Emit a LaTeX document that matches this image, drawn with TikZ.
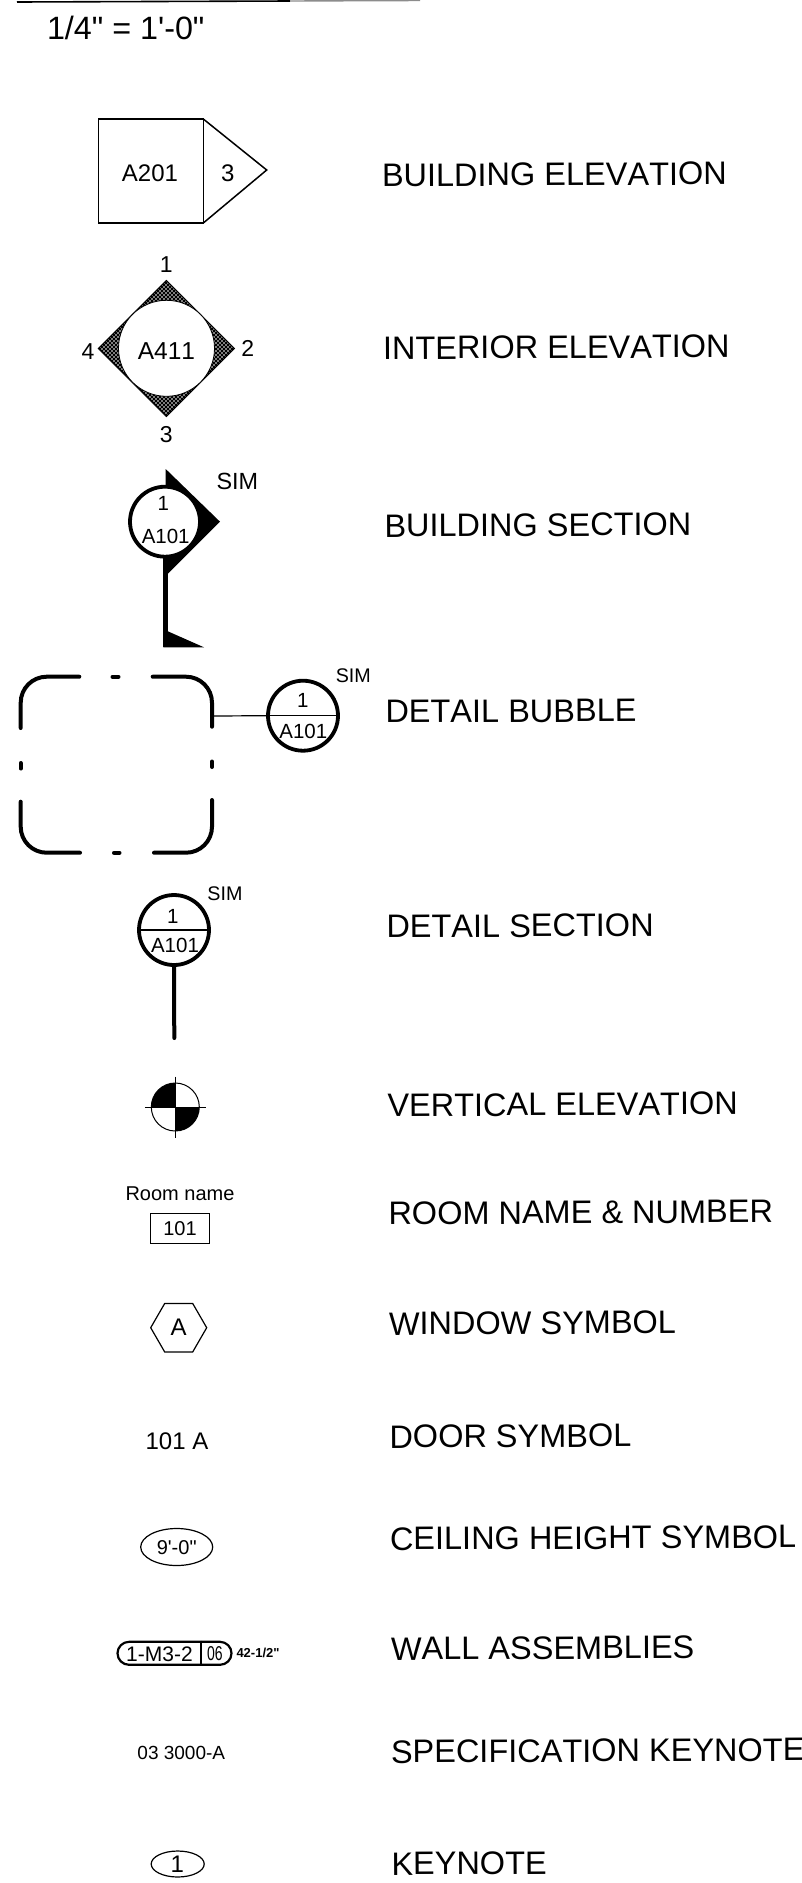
\documentclass[tikz,border=0pt]{standalone}
\usepackage{fontspec}
\newfontfamily\symfont[Kerning=Off]{Liberation Sans}
\usetikzlibrary{positioning,patterns,shapes.geometric,shapes.misc}
\pgfdeclarepatternformonly{whitedots}{\pgfqpoint{-1pt}{-1pt}}{\pgfqpoint{5pt}{5pt}}{\pgfqpoint{4pt}{4pt}}{
	\pgfpathcircle{\pgfqpoint{0pt}{0pt}}{0.9pt}
	\pgfpathcircle{\pgfqpoint{2pt}{2pt}}{0.9pt}
	\pgfusepath{fill}
}
\tikzset{
	txt/.style={inner sep=0pt, outer sep=0pt, font={\symfont\fontsize{#1}{#1}\selectfont}},
	symlabel/.style={txt=32.5, anchor=base west, rotate=0.3},
	thinline/.style={line width=1.2pt},
	bubble/.style={circle, draw, fill=white, line width=3.8pt, minimum size=70pt, inner sep=0pt},
	cloudline/.style={line width=4pt, line cap=round, rounded corners=26pt},
	shaped/.style={draw, thinline, inner sep=0pt, outer sep=0pt}
}
\begin{document}
\begin{tikzpicture}[x=1pt, y=-1pt]
	\useasboundingbox (0,0) rectangle (802,1883);
	\draw [line width=1.6pt] (17,2) -- (290,1);
	\draw [line width=1.4pt, black!45] (290,1) -- (420,0.5);
	\node [txt=32.3, anchor=base west] at (47,39.5) (scale) {1/4" = 1'-0"};

	\node [shaped, line width=1.5pt, minimum width=105pt, minimum height=104pt] at (150.8,171) (elev) {};
	\coordinate (tip) at (266.7,170);
	\draw [line width=1.5pt] (elev.north east) -- (tip) -- (elev.south east);
	\node [txt=24] at (150,173.7) (elevsheet) {A201};
	\node [txt=24] at (227.7,173) (elevnum) {3};

	\node [diamond, draw, line width=1pt, aspect=1, minimum size=136pt, inner sep=0pt, outer sep=0pt, preaction={fill=black}, pattern=whitedots, pattern color=white] at (166.3,348.5) (dia) {};
	\node [circle, fill=white, draw, line width=0.8pt, minimum size=96pt, inner sep=0pt] at (166.5,348.3) (diac) {};
	\node [txt=24.5] at (166.5,350.7) (diasheet) {A411};
	\node [txt=23, above=8pt of dia] (dian) {1};
	\node [txt=23, right=7pt of dia] (diae) {2};
	\node [txt=23, below=10pt of dia] (dias) {3};
	\node [txt=23, left=4pt of dia, yshift=-3pt] (diaw) {4};

	\fill (165.7,469) -- (220,521.7) -- (165.7,576) -- cycle;
	\coordinate (poleend) at (165.5,647.3);
	\draw [line width=4.5pt] (165.5,555) -- (poleend);
	\fill (163.3,629.3) -- (204,647.3) -- (163.3,647.3) -- cycle;
	\node [bubble] at (165,521.7) (sect) {};
	\node [txt=20.5] at (163.3,503.3) (sectnum) {1};
	\node [txt=20.5] at (165.7,536.7) (sectsheet) {A101};
	\node [txt=23.4] at (237.3,481.7) (sectsim) {SIM};

	\draw [cloudline] (20.7,728) |- (79.3,676.7);
	\draw [cloudline] (152.7,676.7) -| (212,726.7);
	\draw [cloudline] (20.7,801.7) |- (80,852.7);
	\draw [cloudline] (154,852.7) -| (212,800);
	\draw [cloudline] (112.5,676.7) -- (118.5,676.7);
	\draw [cloudline] (114,852.7) -- (119.5,852.7);
	\draw [cloudline] (20.7,763) -- (20.7,768.5);
	\draw [cloudline] (212,761.5) -- (212,767);
	\coordinate (cloudedge) at (212,716);
	\node [bubble] at (303,715.7) (dtl) {};
	\draw [thinline] (cloudedge) -- (dtl.west);
	\draw [thinline] (dtl.west) -- (dtl.east);
	\node [txt=20.5] at (302.7,700) (dtlnum) {1};
	\node [txt=20.5] at (303.3,731.7) (dtlsheet) {A101};
	\node [txt=19.7] at (353.3,675.7) (dtlsim) {SIM};

	\node [bubble] at (174,930) (dsec) {};
	\draw [thinline] (dsec.west) -- (dsec.east);
	\coordinate (dsecend) at (174.3,1038);
	\draw [line width=4pt, line cap=round] (dsec.south) -- (dsecend);
	\node [txt=20.5] at (172.7,916) (dsecnum) {1};
	\node [txt=20.5] at (175,945) (dsecsheet) {A101};
	\node [txt=19.7] at (225,893.3) (dsecsim) {SIM};

	\node [circle, draw, line width=1pt, minimum size=48pt, inner sep=0pt, path picture={
		\fill (path picture bounding box.center) rectangle (path picture bounding box.north west);
		\fill (path picture bounding box.center) rectangle (path picture bounding box.south east);
	}] at (175.3,1107) (vert) {};
	\draw [line width=1pt] ([xshift=-6pt]vert.west) -- ([xshift=6pt]vert.east);
	\draw [line width=1pt] ([yshift=6pt]vert.north) -- ([yshift=-6pt]vert.south);

	\node [txt=20] at (180,1193.3) (room) {Room name};
	\node [shaped, minimum width=59pt, minimum height=30pt, below=13pt of room] (roomno) {};
	\node [txt=20] at (roomno) (roomnum) {101};

	\node [shaped, regular polygon, regular polygon sides=6, minimum size=56pt] at (178.7,1327.7) (win) {};
	\node [txt=24] at (win) (wintag) {A};

	\node [txt=24] at (177,1441) (door) {101 A};

	\node [shaped, ellipse, minimum width=72pt, minimum height=37pt] at (176.7,1547) (ceil) {};
	\node [txt=20] at (176.7,1547.7) (ceilht) {9'-0"};

	\node [draw, rounded rectangle, line width=2.2pt, minimum width=114pt, minimum height=23pt, inner sep=0pt] at (174.5,1653.3) (wall) {};
	\coordinate (walldiv) at (201,1653.3);
	\draw [line width=1.5pt] (walldiv |- wall.north) -- (walldiv |- wall.south);
	\node [txt=21] at (159.5,1654) (walltype) {1-M3-2};
	\node [txt=20] at (215,1654) (wallrate) {\scalebox{0.7}[1]{06}};
	\node [txt=13, anchor=west, font={\symfont\bfseries\fontsize{13}{13}\selectfont}] at (236.5,1652.7) (wallht) {42-1/2"};

	\node [txt=19] at (181.3,1753.3) (spec) {03 3000-A};

	\node [shaped, ellipse, minimum width=53pt, minimum height=26pt] at (177.7,1864) (key) {};
	\node [txt=24] at (177.3,1864.5) (keyno) {1};

	\node [symlabel] at (382,186.5) (lblbe) {BUILDING ELEVATION};
	\node [symlabel] at (383,359.3) (lblie) {INTERIOR ELEVATION};
	\node [symlabel] at (384.5,537) (lblbs) {BUILDING SECTION};
	\node [symlabel] at (385.5,722.9) (lbldb) {DETAIL BUBBLE};
	\node [symlabel] at (386.5,937.7) (lblds) {DETAIL SECTION};
	\node [symlabel] at (387.5,1116.5) (lblve) {VERTICAL ELEVATION};
	\node [symlabel] at (388.5,1224.6) (lblrn) {ROOM NAME \& NUMBER};
	\node [symlabel] at (389,1335) (lblwn) {WINDOW SYMBOL};
	\node [symlabel] at (389.5,1448) (lbldr) {DOOR SYMBOL};
	\node [symlabel] at (390,1550) (lblcl) {CEILING HEIGHT SYMBOL};
	\node [symlabel] at (391,1660) (lblwa) {WALL ASSEMBLIES};
	\node [symlabel] at (391,1763) (lblsk) {SPECIFICATION KEYNOTE};
	\node [symlabel] at (391.5,1875) (lblkn) {KEYNOTE};
\end{tikzpicture}
\end{document}
